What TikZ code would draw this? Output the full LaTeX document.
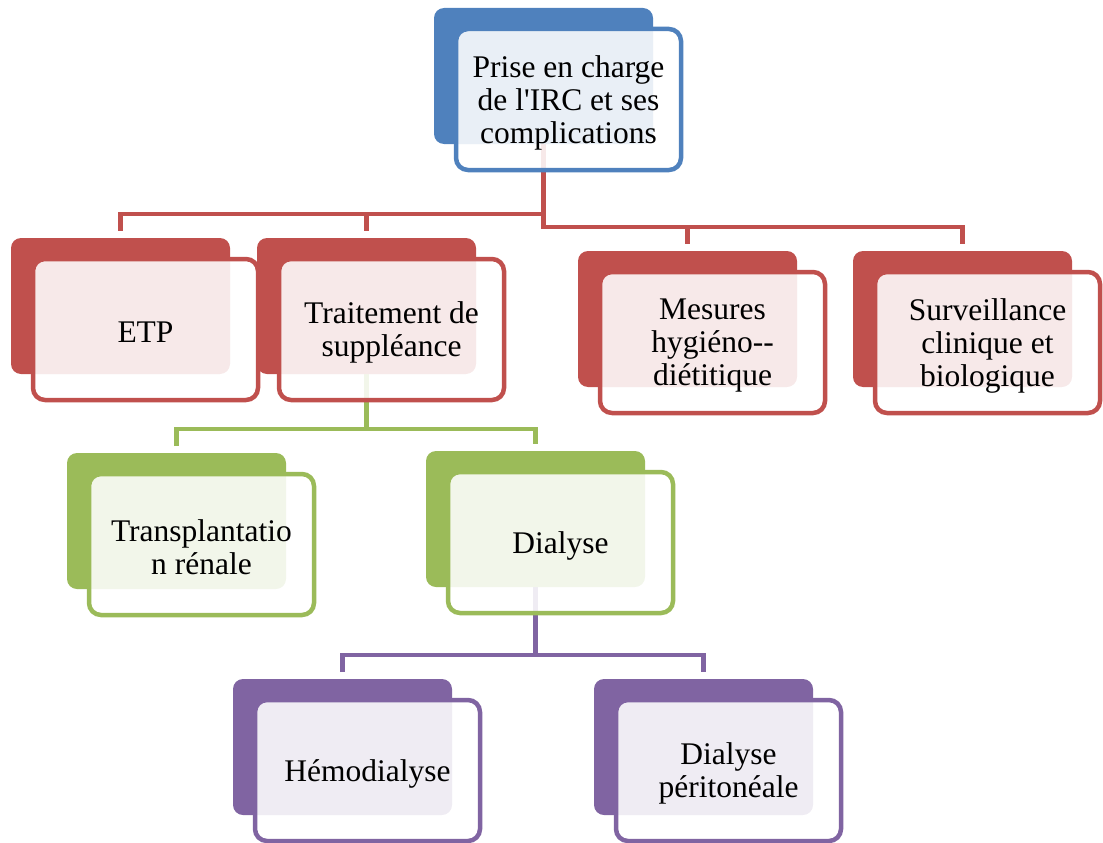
\documentclass[tikz,border=0pt]{standalone}
\usepackage{fontspec}
\newfontfamily\libser{Liberation Serif}
\usetikzlibrary{calc}
\pgfdeclarelayer{bg}
\pgfsetlayers{bg,main}
\definecolor{cblue}{HTML}{4F81BD}
\definecolor{cred}{HTML}{C0504D}
\definecolor{cgreen}{HTML}{9BBB59}
\definecolor{cpurple}{HTML}{8064A2}
\tikzset{
  backbox/.style={rectangle, fill=#1, rounded corners=10pt, anchor=north west,
    minimum width=219pt, minimum height=136pt, inner sep=0pt, outer sep=0pt},
  frontbox/.style={rectangle, draw=#1, line width=4.5pt, fill=white, fill opacity=0.88,
    text opacity=1, rounded corners=12pt, anchor=north west,
    minimum width=225pt, minimum height=141pt, inner sep=0pt, outer sep=0pt},
  boxtext/.style={align=center, inner sep=0pt, yshift=-3pt,
    font=\libser\fontsize{31.5}{33}\selectfont},
  conn/.style={draw=#1, line width=4.5pt, line join=miter}
}
\begin{document}
\begin{tikzpicture}[x=1pt,y=-1pt]
\useasboundingbox (0,0) rectangle (1103,843);
% back boxes
\node[backbox=cblue] (root) at (434,8) {};
\node[backbox=cred] (etp) at (11,238) {};
\node[backbox=cred] (trait) at (257,238) {};
\node[backbox=cred] (mes) at (578,251) {};
\node[backbox=cred] (surv) at (853,251) {};
\node[backbox=cgreen] (trans) at (67,453) {};
\node[backbox=cgreen] (dial) at (426,451) {};
\node[backbox=cpurple] (hemo) at (233,679) {};
\node[backbox=cpurple] (dp) at (594,679) {};
% front boxes
\node[frontbox=cblue] (rootf) at ($(root.north west)+(22,21)$) {};
\node[frontbox=cred] (etpf) at ($(etp.north west)+(22,21)$) {};
\node[frontbox=cred] (traitf) at ($(trait.north west)+(22,21)$) {};
\node[frontbox=cred] (mesf) at ($(mes.north west)+(22,21)$) {};
\node[frontbox=cred] (survf) at ($(surv.north west)+(22,21)$) {};
\node[frontbox=cgreen] (transf) at ($(trans.north west)+(22,21)$) {};
\node[frontbox=cgreen] (dialf) at ($(dial.north west)+(22,21)$) {};
\node[frontbox=cpurple] (hemof) at ($(hemo.north west)+(22,21)$) {};
\node[frontbox=cpurple] (dpf) at ($(dp.north west)+(22,21)$) {};
% texts
\node[boxtext] (roott) at (rootf.center) {Prise en charge\\de l'IRC et ses\\complications};
\node[boxtext] (etpt) at (etpf.center) {ETP};
\node[boxtext] (traitt) at (traitf.center) {Traitement de\\suppléance};
\node[boxtext] (mest) at (mesf.center) {Mesures\\hygiéno-{}-\\diétitique};
\node[boxtext] (survt) at (survf.center) {Surveillance\\clinique et\\biologique};
\node[boxtext] (transt) at (transf.center) {Transplantatio\\n rénale};
\node[boxtext] (dialt) at (dialf.center) {Dialyse};
\node[boxtext] (hemot) at (hemof.center) {Hémodialyse};
\node[boxtext] (dpt) at (dpf.center) {Dialyse\\péritonéale};
% connectors
\begin{pgfonlayer}{bg}
\draw[conn=cred] (root.south) -- ++(0,70) -| ($(etp.north)+(0,-7)$);
\draw[conn=cred] ($(trait.north)+(0,-26)$) -- ($(trait.north)+(0,-7)$);
\draw[conn=cred] (root.south) -- ++(0,83) -| ($(surv.north)+(0,-7)$);
\draw[conn=cred] ($(mes.north)+(0,-26)$) -- ($(mes.north)+(0,-7)$);
\draw[conn=cgreen] (trait.south) -- ++(0,55);
\draw[conn=cgreen] ($(trans.north)+(0,-7)$) |- ($(dial.north)+(0,-22)$) -- ($(dial.north)+(0,-7)$);
\draw[conn=cpurple] (dial.south) -- ++(0,68);
\draw[conn=cpurple] ($(hemo.north)+(0,-7)$) |- ($(dp.north)+(0,-24)$) -- ($(dp.north)+(0,-7)$);
\end{pgfonlayer}
\end{tikzpicture}
\end{document}
